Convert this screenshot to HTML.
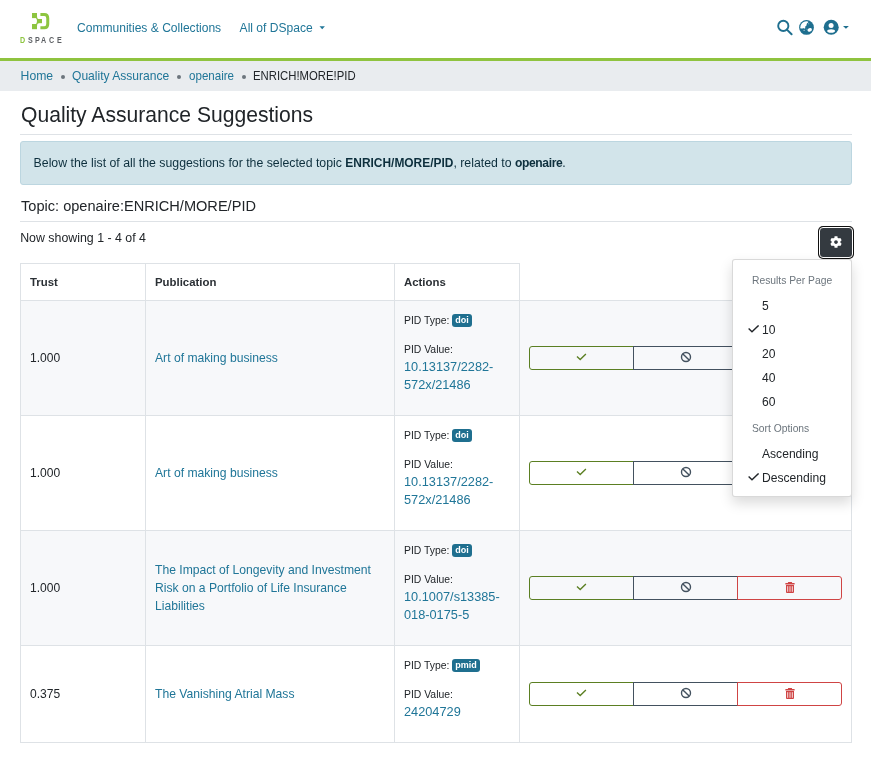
<!DOCTYPE html>
<html lang="en">
<head>
<meta charset="utf-8">
<title>Quality Assurance Suggestions</title>
<style>
*{box-sizing:border-box;margin:0;padding:0}
html,body{width:871px;height:779px;overflow:hidden;background:#fff}
body{position:relative;font-family:"Liberation Sans",Arial,sans-serif;color:#212529;font-size:12.1px}
a{color:#207698;text-decoration:none}
.lg{position:absolute;top:35.6px;font-size:8.3px;font-weight:bold;line-height:1;color:#5c5f63;transform:scaleX(.86);transform-origin:0 0}
.t{position:absolute;white-space:nowrap;line-height:1}
/* header */
.hdr{position:absolute;left:0;top:0;width:871px;height:58px;background:#fff}
.green{position:absolute;left:0;top:58px;width:871px;height:3px;background:#8fc33f}
.crumbs{position:absolute;left:0;top:61px;width:871px;height:30px;background:#e9ecef}
.dot{position:absolute;top:14px;width:4px;height:4px;border-radius:50%;background:#6c757d}
.line{position:absolute;left:0;width:871px;white-space:nowrap}
.line>a,.line>span:not(.dot){position:absolute;top:0}
.hr{position:absolute;left:20px;width:832px;height:1px;background:#dee2e6}
.alert{position:absolute;left:20px;top:141px;width:832px;height:44px;background:#d2e4ea;border:1px solid #bcd6e0;border-radius:3px}
/* gear button */
.gear{position:absolute;left:820px;top:228px;width:32px;height:29px;background:#343a40;border-radius:3px;outline:1px solid #fff;box-shadow:0 0 0 2px #101010}
/* table */
table.tbl{position:absolute;left:20px;top:263px;border-collapse:separate;border-spacing:0;table-layout:fixed;width:832px}
.tbl th,.tbl td{border-left:1px solid #dee2e6;border-top:1px solid #dee2e6;vertical-align:middle;padding:0 0 0 9px;text-align:left}
.tbl th{font-weight:bold;font-size:11.4px;color:#2b3035;height:37px}
.tbl td.last{border-right:1px solid #dee2e6}
.tbl tr.lastrow td{border-bottom:1px solid #dee2e6}
.tbl tr.odd td{background:#f7f8fa}
.tbl th.blank{border-top:none;background:#fff}
.num{font-size:12.05px}
.pub{font-size:12.15px;line-height:18px;padding-right:8px}
.pid{vertical-align:top!important;padding-top:0!important}
.pl{font-size:10.4px;line-height:1;white-space:nowrap;position:relative}
.badge{display:inline-block;background:#1f6f8f;color:#fff;font-weight:bold;font-size:9px;line-height:12px;height:12.5px;padding:0 3px;border-radius:3px;vertical-align:1px}
.pv{font-size:12.75px;line-height:18px;white-space:nowrap}
.bg{display:flex;width:313px;height:24px;margin-left:0}
.bg .b{flex:0 0 105px}
.b{flex:1;height:24px;border:1px solid;display:flex;align-items:center;justify-content:center;background:transparent}
.b svg{position:relative;top:-1px}
.b1{border-color:#5b7f22;border-radius:3px 0 0 3px}
.b2{border-color:#43515f;margin-left:-1px;position:relative}
.b3{border-color:#cf4444;margin-left:-1px;position:relative;z-index:1;border-radius:0 3px 3px 0}
/* dropdown */
.dd{position:absolute;left:732px;top:259px;width:120px;height:238px;background:#fff;border:1px solid rgba(0,0,0,.15);border-radius:3px;box-shadow:0 6px 13px rgba(0,0,0,.15);z-index:5}
.dh{position:absolute;left:19px;font-size:10.3px;color:#6c757d;white-space:nowrap;line-height:1}
.di{position:absolute;left:29px;font-size:12.1px;color:#212529;white-space:nowrap;line-height:1}
.ck{position:absolute;left:15.3px}
</style>
</head>
<body>

<!-- HEADER -->
<div class="hdr">
  <svg class="logo" style="position:absolute;left:0;top:0" width="70" height="50" viewBox="0 0 70 50">
    <g fill="#8dc540">
      <path d="M34.5 16H37Q37 19 38.5 19V23.2Q37 23.2 37 26H34.5Z"/>
      <circle cx="31.6" cy="21.1" r="5.4" fill="#fff"/>
      <rect x="32" y="13" width="5" height="5.1"/>
      <rect x="32" y="24" width="5" height="5.2"/>
      <rect x="38" y="19" width="4" height="4.2"/>
    </g>
    <path d="M40.4 14.4H44.3Q47.75 14.4 47.75 18.3V24Q47.75 27.8 44.3 27.8H40.4" fill="none" stroke="#8dc540" stroke-width="3"/>
  </svg>
  <span class="lg" style="left:20px;color:#8dc540">D</span><span class="lg" style="left:27.6px">S</span><span class="lg" style="left:34.9px">P</span><span class="lg" style="left:41.4px">A</span><span class="lg" style="left:48.8px">C</span><span class="lg" style="left:56.8px">E</span>

  <a class="t" style="left:77px;top:21.8px;font-size:12.07px" href="#">Communities &amp; Collections</a>
  <a class="t" style="left:239.6px;top:21.8px;font-size:12.07px" href="#">All of DSpace</a>
  <svg style="position:absolute;left:319px;top:26px" width="7" height="4" viewBox="0 0 7 4"><path d="M0.5 0.3H5.9L3.2 3.2Z" fill="#207698"/></svg>

  <!-- search -->
  <svg style="position:absolute;left:776px;top:19px" width="18" height="18" viewBox="0 0 18 18">
    <circle cx="7.3" cy="6.9" r="5.1" fill="none" stroke="#1f6f8f" stroke-width="1.9"/>
    <path d="M10.9 10.6L15.6 15.3" stroke="#1f6f8f" stroke-width="2" stroke-linecap="round"/>
  </svg>
  <!-- globe -->
  <svg style="position:absolute;left:798px;top:19px" width="17" height="17" viewBox="0 0 17 17">
    <defs><clipPath id="gc"><circle cx="8.5" cy="8.4" r="6.2"/></clipPath></defs>
    <circle cx="8.5" cy="8.4" r="7.4" fill="#1f6f8f"/>
    <path clip-path="url(#gc)" d="M0 0H10.2V3.5L9.3 4.1 8.7 5 8.5 6.6 7.4 7.2 7.1 9.6H5.9L5.3 8.9 4.6 9.6H0Z" fill="#fff"/>
    <ellipse cx="11.7" cy="10.9" rx="2.3" ry="1.75" transform="rotate(-20 11.7 10.9)" fill="#fff"/>
    <circle cx="10.7" cy="4.7" r="0.55" fill="#9cc8da"/>
    <circle cx="6.1" cy="11.2" r="0.55" fill="#fff"/>
    <circle cx="8.5" cy="10.1" r="0.45" fill="#9cc8da"/>
  </svg>
  <!-- user -->
  <svg style="position:absolute;left:823px;top:19px" width="17" height="17" viewBox="0 0 17 17">
    <circle cx="8.2" cy="8.3" r="7.5" fill="#1f6f8f"/>
    <circle cx="8.1" cy="6.6" r="2.5" fill="#fff"/>
    <ellipse cx="8.1" cy="12" rx="3.9" ry="1.8" fill="#fff"/>
  </svg>
  <svg style="position:absolute;left:842px;top:25px" width="8" height="5" viewBox="0 0 8 5"><path d="M1 1H6.9L3.95 3.8Z" fill="#1f6f8f"/></svg>
</div>
<div class="green"></div>

<!-- BREADCRUMB -->
<div class="crumbs">
  <div class="line" style="top:0;height:30px;line-height:30px">
    <a style="left:20.6px;font-size:12.2px" href="#">Home</a><span class="dot" style="left:60.6px"></span><a style="left:71.8px;font-size:12.2px;transform:scaleX(.99);transform-origin:0 0" href="#">Quality Assurance</a><span class="dot" style="left:177.3px"></span><a style="left:188.5px;font-size:12.2px;transform:scaleX(.95);transform-origin:0 0" href="#">openaire</a><span class="dot" style="left:242px"></span><span style="left:252.9px;font-size:12.2px;transform:scaleX(.93);transform-origin:0 0;color:#212529">ENRICH!MORE!PID</span>
  </div>
</div>

<!-- TITLE -->
<h2 class="t" style="left:21px;top:104px;font-size:21.8px;transform:scaleX(.968);transform-origin:0 0;font-weight:normal;color:#212529">Quality Assurance Suggestions</h2>
<div class="hr" style="top:134px"></div>

<div class="alert">
  <span class="t" style="left:12.6px;top:15.4px;font-size:12.3px;color:#0d2f3d">Below the list of all the suggestions for the selected topic <b style="font-size:11.95px">ENRICH/MORE/PID</b>, related to <b style="font-size:12.1px;letter-spacing:-.38px">openaire</b>.</span>
</div>

<h5 class="t" style="left:21px;top:198.3px;font-size:15.2px;transform:scaleX(.96);transform-origin:0 0;font-weight:normal;color:#212529">Topic: openaire:ENRICH/MORE/PID</h5>
<div class="hr" style="top:221px"></div>

<span class="t" style="left:20.2px;top:232.2px;font-size:12.36px;color:#212529">Now showing 1 - 4 of 4</span>

<div class="gear">
  <svg style="position:absolute;left:10.4px;top:8.1px" width="12" height="12" viewBox="0 0 512 512"><path fill="#fff" d="M487.4 315.7l-42.6-24.6c4.3-23.2 4.3-47 0-70.2l42.6-24.6c4.9-2.8 7.1-8.6 5.5-14-11.1-35.6-30-67.8-54.7-94.6-3.8-4.1-10-5.1-14.8-2.3L380.8 110c-17.9-15.4-38.5-27.3-60.8-35.1V25.8c0-5.6-3.9-10.5-9.4-11.7-36.7-8.2-74.3-7.8-109.2 0-5.5 1.2-9.4 6.1-9.4 11.7V75c-22.2 7.9-42.8 19.8-60.8 35.1L88.7 85.5c-4.9-2.8-11-1.9-14.8 2.3-24.7 26.7-43.6 58.9-54.7 94.6-1.7 5.4.6 11.2 5.5 14L67.3 221c-4.3 23.2-4.3 47 0 70.2l-42.6 24.6c-4.9 2.8-7.1 8.6-5.5 14 11.1 35.6 30 67.8 54.7 94.6 3.8 4.1 10 5.1 14.8 2.3l42.6-24.6c17.9 15.4 38.5 27.3 60.8 35.1v49.2c0 5.6 3.9 10.5 9.4 11.7 36.7 8.2 74.3 7.8 109.2 0 5.5-1.2 9.4-6.1 9.4-11.7v-49.2c22.2-7.9 42.8-19.8 60.8-35.1l42.6 24.6c4.9 2.8 11 1.9 14.8-2.3 24.7-26.7 43.6-58.9 54.7-94.6 1.5-5.5-.7-11.3-5.6-14.1zM256 336c-44.1 0-80-35.9-80-80s35.9-80 80-80 80 35.9 80 80-35.9 80-80 80z"/></svg>
</div>

<!-- TABLE -->
<table class="tbl">
  <colgroup><col style="width:125px"><col style="width:249px"><col style="width:125px"><col style="width:333px"></colgroup>
  <thead><tr><th>Trust</th><th>Publication</th><th>Actions</th><th class="blank"></th></tr></thead>
  <tbody>
    <tr class="odd" style="height:115px">
      <td class="num">1.000</td>
      <td class="pub"><a href="#">Art of making business</a></td>
      <td class="pid"><div class="pl" style="top:13px">PID Type: <span class="badge">doi</span></div><div class="pl" style="top:31px">PID Value:</div><div class="pv" style="position:relative;top:34px"><a href="#">10.13137/2282-<br>572x/21486</a></div></td>
      <td class="last"><div class="bg"><span class="b b1"><svg width="11" height="8" viewBox="0 0 11 8"><path d="M1 3.4L4.2 6.5L9.9 0.9" fill="none" stroke="#5b7f22" stroke-width="1.35"/></svg></span><span class="b b2"><svg width="12" height="12" viewBox="0 0 12 12"><circle cx="6" cy="6" r="4.5" fill="none" stroke="#43515f" stroke-width="1.4"/><path d="M2.9 2.9L9.1 9.1" stroke="#43515f" stroke-width="1.4"/></svg></span><span class="b b3"><svg width="10" height="11" viewBox="0 0 10 11"><path d="M3.2 0H6.8L7.2 0.9H9.6V2.4H0.4V0.9H2.8Z" fill="#cf4444"/><path d="M1 3.1H9V10C9 10.5 8.6 10.9 8.1 10.9H1.9C1.4 10.9 1 10.5 1 10Z" fill="#cf4444"/><path d="M2.7 4.2V9.8M5 4.2V9.8M7.3 4.2V9.8" stroke="#fff" stroke-width="0.85"/></svg></span></div></td>
    </tr>
    <tr style="height:115px">
      <td class="num">1.000</td>
      <td class="pub"><a href="#">Art of making business</a></td>
      <td class="pid"><div class="pl" style="top:13px">PID Type: <span class="badge">doi</span></div><div class="pl" style="top:31px">PID Value:</div><div class="pv" style="position:relative;top:34px"><a href="#">10.13137/2282-<br>572x/21486</a></div></td>
      <td class="last"><div class="bg"><span class="b b1"><svg width="11" height="8" viewBox="0 0 11 8"><path d="M1 3.4L4.2 6.5L9.9 0.9" fill="none" stroke="#5b7f22" stroke-width="1.35"/></svg></span><span class="b b2"><svg width="12" height="12" viewBox="0 0 12 12"><circle cx="6" cy="6" r="4.5" fill="none" stroke="#43515f" stroke-width="1.4"/><path d="M2.9 2.9L9.1 9.1" stroke="#43515f" stroke-width="1.4"/></svg></span><span class="b b3"><svg width="10" height="11" viewBox="0 0 10 11"><path d="M3.2 0H6.8L7.2 0.9H9.6V2.4H0.4V0.9H2.8Z" fill="#cf4444"/><path d="M1 3.1H9V10C9 10.5 8.6 10.9 8.1 10.9H1.9C1.4 10.9 1 10.5 1 10Z" fill="#cf4444"/><path d="M2.7 4.2V9.8M5 4.2V9.8M7.3 4.2V9.8" stroke="#fff" stroke-width="0.85"/></svg></span></div></td>
    </tr>
    <tr class="odd" style="height:115px">
      <td class="num">1.000</td>
      <td class="pub"><a href="#">The Impact of Longevity and Investment<br>Risk on a Portfolio of Life Insurance<br>Liabilities</a></td>
      <td class="pid"><div class="pl" style="top:13px">PID Type: <span class="badge">doi</span></div><div class="pl" style="top:31px">PID Value:</div><div class="pv" style="position:relative;top:34px"><a href="#">10.1007/s13385-<br>018-0175-5</a></div></td>
      <td class="last"><div class="bg"><span class="b b1"><svg width="11" height="8" viewBox="0 0 11 8"><path d="M1 3.4L4.2 6.5L9.9 0.9" fill="none" stroke="#5b7f22" stroke-width="1.35"/></svg></span><span class="b b2"><svg width="12" height="12" viewBox="0 0 12 12"><circle cx="6" cy="6" r="4.5" fill="none" stroke="#43515f" stroke-width="1.4"/><path d="M2.9 2.9L9.1 9.1" stroke="#43515f" stroke-width="1.4"/></svg></span><span class="b b3"><svg width="10" height="11" viewBox="0 0 10 11"><path d="M3.2 0H6.8L7.2 0.9H9.6V2.4H0.4V0.9H2.8Z" fill="#cf4444"/><path d="M1 3.1H9V10C9 10.5 8.6 10.9 8.1 10.9H1.9C1.4 10.9 1 10.5 1 10Z" fill="#cf4444"/><path d="M2.7 4.2V9.8M5 4.2V9.8M7.3 4.2V9.8" stroke="#fff" stroke-width="0.85"/></svg></span></div></td>
    </tr>
    <tr class="lastrow" style="height:98px">
      <td class="num">0.375</td>
      <td class="pub"><a href="#">The Vanishing Atrial Mass</a></td>
      <td class="pid"><div class="pl" style="top:13px">PID Type: <span class="badge">pmid</span></div><div class="pl" style="top:31px">PID Value:</div><div class="pv" style="position:relative;top:34px"><a href="#">24204729</a></div></td>
      <td class="last"><div class="bg"><span class="b b1"><svg width="11" height="8" viewBox="0 0 11 8"><path d="M1 3.4L4.2 6.5L9.9 0.9" fill="none" stroke="#5b7f22" stroke-width="1.35"/></svg></span><span class="b b2"><svg width="12" height="12" viewBox="0 0 12 12"><circle cx="6" cy="6" r="4.5" fill="none" stroke="#43515f" stroke-width="1.4"/><path d="M2.9 2.9L9.1 9.1" stroke="#43515f" stroke-width="1.4"/></svg></span><span class="b b3"><svg width="10" height="11" viewBox="0 0 10 11"><path d="M3.2 0H6.8L7.2 0.9H9.6V2.4H0.4V0.9H2.8Z" fill="#cf4444"/><path d="M1 3.1H9V10C9 10.5 8.6 10.9 8.1 10.9H1.9C1.4 10.9 1 10.5 1 10Z" fill="#cf4444"/><path d="M2.7 4.2V9.8M5 4.2V9.8M7.3 4.2V9.8" stroke="#fff" stroke-width="0.85"/></svg></span></div></td>
    </tr>
  </tbody>
</table>

<!-- DROPDOWN -->
<div class="dd">
  <span class="dh" style="top:16px">Results Per Page</span>
  <span class="di" style="top:40px">5</span>
  <svg class="ck" style="top:65.3px" width="12" height="9" viewBox="0 0 12 9"><path d="M0.6 3.4L4 6.7L10.6 0.4" fill="none" stroke="#212529" stroke-width="1.35"/></svg><span class="di" style="top:64px">10</span>
  <span class="di" style="top:88px">20</span>
  <span class="di" style="top:112px">40</span>
  <span class="di" style="top:136px">60</span>
  <span class="dh" style="top:164px">Sort Options</span>
  <span class="di" style="top:188px">Ascending</span>
  <svg class="ck" style="top:213.3px" width="12" height="9" viewBox="0 0 12 9"><path d="M0.6 3.4L4 6.7L10.6 0.4" fill="none" stroke="#212529" stroke-width="1.35"/></svg><span class="di" style="top:212px">Descending</span>
</div>

</body>
</html>
